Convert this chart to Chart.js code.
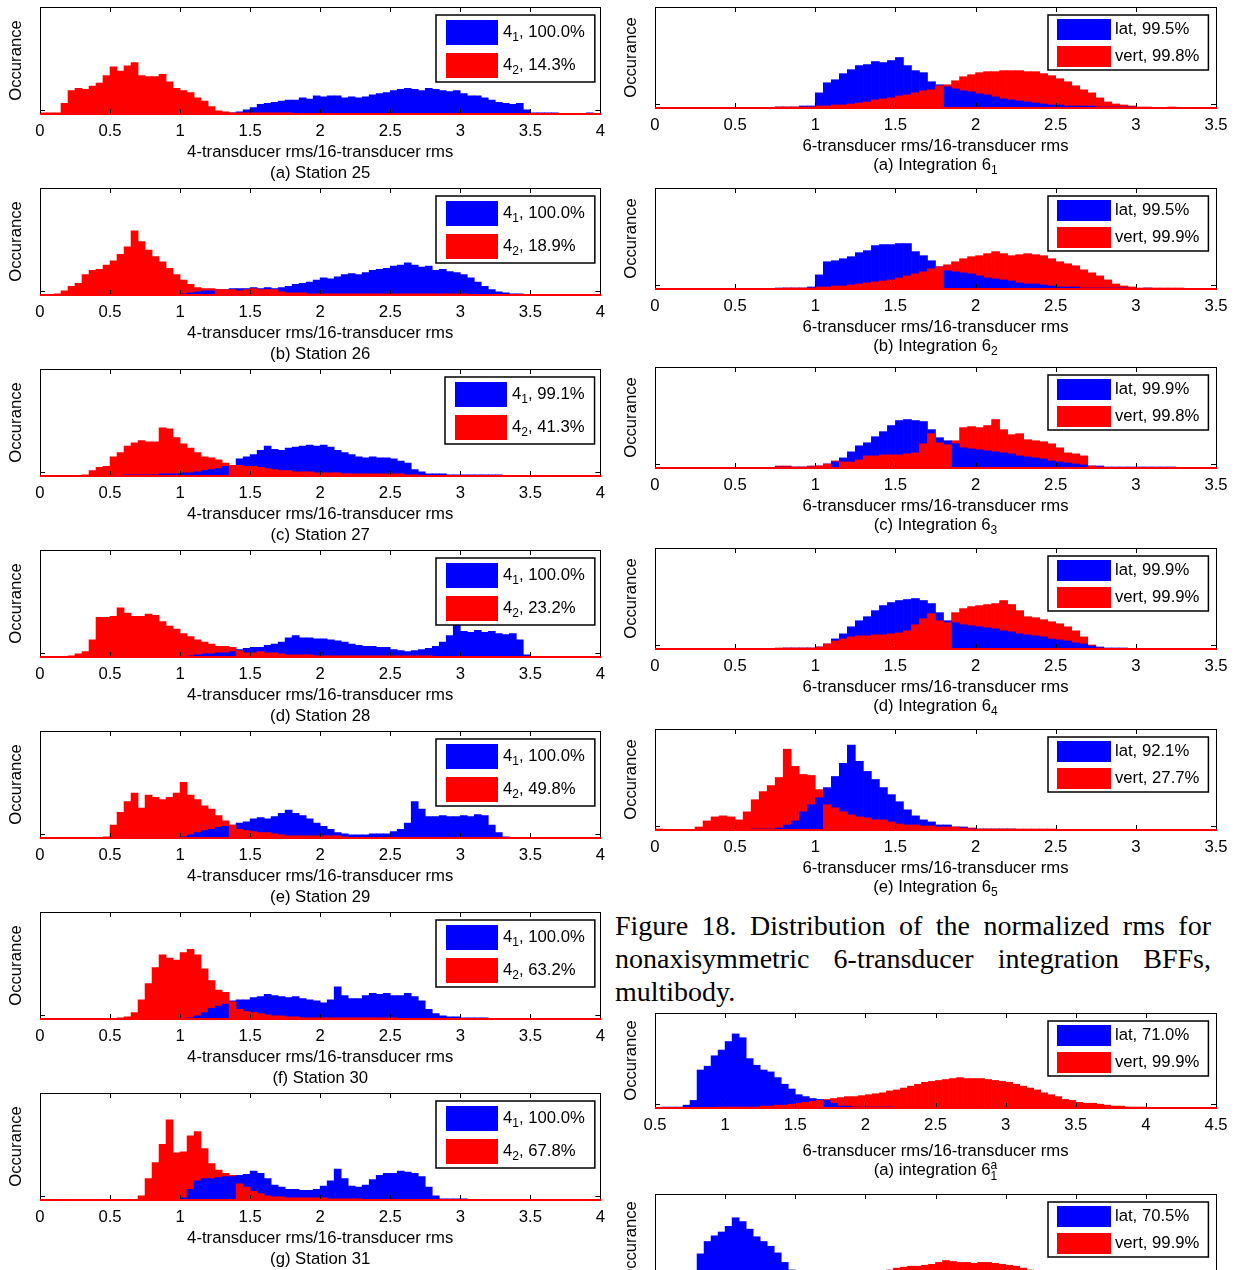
<!DOCTYPE html>
<html>
<head>
<meta charset="utf-8">
<script src="https://cdn.jsdelivr.net/npm/chart.js@4.4.0/dist/chart.umd.min.js"></script>
<style>
  body { margin: 0; background: #fff; width: 1239px; height: 1270px; overflow: hidden; position: relative; }
  canvas { position: absolute; }
  .cap { position: absolute; left: 615px; top: 909px; width: 596px; font: 28px "Liberation Serif", "Times New Roman", serif; line-height: 33px; color: #000; }
  .j { text-align: justify; text-align-last: justify; }
</style>
</head>
<body>
<div class="cap">
  <div class="j">Figure 18. Distribution of the normalized rms for</div>
  <div class="j">nonaxisymmetric 6-transducer integration BFFs,</div>
  <div>multibody.</div>
</div>
<script>
// ---- tick labels / axis text ----
const ticks0to4 = [0, 0.5, 1, 1.5, 2, 2.5, 3, 3.5, 4];
const ticks0to35 = [0, 0.5, 1, 1.5, 2, 2.5, 3, 3.5];
const ticks05to45 = [0.5, 1, 1.5, 2, 2.5, 3, 3.5, 4, 4.5];
const yTitle = 'Occurance';
const xTitle4 = '4-transducer rms/16-transducer rms';
const xTitle6 = '6-transducer rms/16-transducer rms';

const leftTitles = ['(a) Station 25', '(b) Station 26', '(c) Station 27', '(d) Station 28',
  '(e) Station 29', '(f) Station 30', '(g) Station 31'];
const leftLegend = [
  ['4_1, 100.0%', '4_2, 14.3%'], ['4_1, 100.0%', '4_2, 18.9%'], ['4_1, 99.1%', '4_2, 41.3%'],
  ['4_1, 100.0%', '4_2, 23.2%'], ['4_1, 100.0%', '4_2, 49.8%'], ['4_1, 100.0%', '4_2, 63.2%'],
  ['4_1, 100.0%', '4_2, 67.8%']];
const rightTitles = ['(a) Integration 6_1', '(b) Integration 6_2', '(c) Integration 6_3',
  '(d) Integration 6_4', '(e) Integration 6_5', '(a) integration 6^a_1', '(b) integration 6^a_2'];
const rightLegend = [
  ['lat, 99.5%', 'vert, 99.8%'], ['lat, 99.5%', 'vert, 99.9%'], ['lat, 99.9%', 'vert, 99.8%'],
  ['lat, 99.9%', 'vert, 99.9%'], ['lat, 92.1%', 'vert, 27.7%'], ['lat, 71.0%', 'vert, 99.9%'],
  ['lat, 70.5%', 'vert, 99.9%']];

// ---- histogram counts, bins of 0.05 (left: from 0, right: from 0, bottom: from 0.5) ----
const st25_41 = [0,0,0,0,0,0,0,0,0,0, 0,0,0,0,0,0,0,0,0,0, 0,0,0,0,0,0,0,1,2,4,
  6,9,10,11,12,13,13,15,14,17, 16,17,17,15,16,15,16,18,19,20, 22,23,24,23,22,24,23,22,21,22,
  19,17,17,15,13,11,10,9,10,4, 1,1,1,1,0,0,0,0,1,0];
const st25_42 = [1,1,1,10,22,24,23,26,29,36, 44,40,45,48,36,35,35,37,30,24,
  22,20,15,12,7,3,2,1,1,1, 1,1,1,1,1,1];

const st26_41 = [0,0,0,0,0,0,0,0,0,0, 0,0,0,0,0,0,0,0,0,0, 1,2,3,4,4,5,5,6,6,6,
  7,6,7,6,7,8,10,11,12,14, 16,15,17,19,20,19,21,23,24,25, 27,28,30,28,26,27,23,24,22,21,
  19,16,12,8,5,3,2,1,1,0];
const st26_42 = [0,0,1,4,8,11,19,23,24,28, 32,38,45,60,50,42,36,31,25,19,
  14,10,7,6,6,5,5,5,4,5, 6,5,5,5,3,2,2,2,1,1, 1,1,1,1,1,1,1,1,1,1, 1,1,1,1,1,1,1,1,1,1, 1];

const st27_41 = [0,0,0,0,0,0,0,0,0,0, 0,0,1,1,1,1,1,2,2,2, 3,3,4,5,6,7,9,10,16,18,
  20,24,28,25,24,26,27,28,29,28, 29,27,24,22,20,18,17,18,17,17, 16,14,12,6,4,2,2,2,1,1,
  1,1,1,1,1,1];
const st27_42 = [0,0,0,0,0,0,1,5,8,9, 18,22,28,31,33,32,32,45,44,36,
  30,26,22,18,17,15,12,10,10,9, 9,8,7,6,5,5,4,4,4,3, 3,3,3,2,2,2,2,2,2,2, 2,2,1,1];

const st28_41 = [0,0,0,0,0,0,0,0,0,0, 0,0,0,0,0,0,0,0,0,0, 0,1,2,3,3,4,4,5,7,8,
  9,9,11,12,14,18,20,18,18,17, 17,16,15,14,12,11,10,10,9,9, 7,6,5,6,7,8,10,14,20,30,
  24,23,25,23,24,22,21,22,16,2];
const st28_42 = [0,0,0,0,1,3,5,16,37,37, 38,46,41,38,38,40,39,33,29,26,
  22,19,16,14,12,10,10,9,6,4, 4,5,4,4,3,2,2,2,2,1, 1,1,1,1,1,1,1,1,1,1, 1,1,1,1,1,1];

const st29_41 = [0,0,0,0,0,0,0,0,0,0, 0,0,0,0,0,0,0,0,0,0, 1,3,5,7,8,10,11,12,14,15,
  18,19,18,20,23,26,23,21,18,14, 11,8,5,4,3,3,3,4,4,4, 6,8,14,34,27,20,20,21,20,20,
  21,20,22,21,12,5,1];
const st29_42 = [0,0,0,0,0,0,0,0,0,1, 12,24,34,42,28,40,38,36,38,42,
  52,40,36,30,27,21,16,12,8,7, 6,5,5,4,3,2,2,2,2,2, 2,2,2,1];

const st30_41 = [0,0,0,0,0,0,0,0,0,0, 0,0,0,0,0,0,0,0,0,0, 0,1,3,6,10,12,14,17,18,18,
  20,21,23,22,21,20,21,19,18,17, 15,18,30,22,19,19,22,24,23,24, 22,22,24,21,17,9,5,3,2,2,
  1,1,1,1];
const st30_42 = [0,0,0,0,0,0,0,0,0,0, 0,1,2,6,18,33,48,60,57,55,
  62,65,60,47,36,27,25,16,9,7, 6,5,4,3,3,2,2,1,1,1, 1,1,1,1,1,1,1,1,1,1, 1];

const st31_41 = [0,0,0,0,0,0,0,0,0,0, 0,0,0,0,0,0,0,0,0,0, 2,10,18,20,20,21,22,22,23,24,
  27,25,20,14,12,10,10,9,9,10, 13,18,29,20,13,12,14,19,23,25, 25,27,26,25,22,12,4,1,1,1,
  1];
const st31_42 = [0,0,0,0,0,0,0,0,0,0, 0,0,0,0,4,20,35,52,75,44,
  45,60,64,48,34,28,25,23,15,12, 8,6,4,3,3,2,2,2,2,2, 2,1,1,1,1,1];

const int61Lat = [0,0,0,0,0,0,0,0,0,0, 0,0,0,0,0,1,1,1,2,2, 15,25,28,34,38,42,43,46,45,47,
  50,42,37,35,26,23,21,19,17,16, 14,13,11,9,8,7,6,5,4,3, 3,2,2,2,2,1,1,1,1,1];
const int61Vert = [0,0,0,0,0,0,0,0,0,0, 0,0,0,0,0,1,1,1,1,1, 2,2,3,3,4,5,6,8,9,10,
  12,13,15,17,18,22,23,27,31,33, 35,36,36,37,37,37,36,36,34,32, 29,26,22,18,15,10,6,4,3,2,
  1,1,0,0,1];

const int62Lat = [0,0,0,0,0,0,0,0,0,0, 0,0,0,0,0,1,1,1,1,2, 14,27,28,30,32,36,38,43,44,44,
  45,45,37,33,28,22,18,17,16,15, 13,11,10,9,8,6,5,5,4,3, 2,2,2,1,1,1,1,1,1,0, 0,1];
const int62Vert = [0,0,0,0,0,0,0,0,0,0, 0,0,0,0,0,0,1,1,1,1, 2,2,3,3,4,5,6,7,8,9,
  11,13,15,17,20,22,24,27,30,32, 33,35,37,35,33,34,35,34,33,30, 27,25,23,19,16,13,9,5,3,2,
  1,1,1,1,1,1];

const int63Lat = [0,0,0,0,0,0,0,0,0,0, 0,0,0,0,0,1,1,1,1,1, 2,4,6,10,16,22,25,31,36,42,
  47,48,47,46,38,30,27,24,20,19, 18,17,16,15,14,12,11,10,9,7, 6,5,4,3,2,2,1,1,1,1,
  1,1,1,1,1];
const int63Vert = [0,0,0,0,0,0,0,0,0,0, 0,0,0,0,0,2,2,1,1,2, 2,4,7,6,6,8,12,12,13,13,
  13,14,15,24,34,25,23,27,40,41, 40,42,48,38,33,34,28,27,26,24, 20,15,14,12,2,1];

const int64Lat = [0,0,0,0,0,0,0,0,0,0, 0,0,0,0,0,0,1,1,1,1, 2,5,10,15,22,28,32,38,43,46,
  48,49,50,48,45,36,28,26,24,23, 22,21,20,18,17,15,14,13,12,10, 9,8,6,5,3,2,1,1,1];
const int64Vert = [0,0,0,0,0,0,0,0,0,0, 0,0,0,0,0,1,1,1,1,1, 2,5,8,10,12,13,13,14,14,15,
  16,18,24,30,35,28,26,36,40,42, 43,44,45,48,44,38,32,31,29,27, 25,22,18,12,4,1];

const int65Lat = [0,0,0,0,0,0,0,0,0,0, 0,0,1,1,1,2,5,9,18,25, 32,42,53,66,84,68,58,50,42,35,
  28,20,14,10,8,5,5,3,3,1, 1,1,1,1,1];
const int65Vert = [1,0,0,0,0,3,9,13,14,13, 10,18,30,38,44,52,80,63,55,54,
  40,25,22,18,15,13,12,10,10,8, 6,5,5,4,4,3,3,3,2,2, 1,1,1,1,1,1,1,1,1,1];

const int61aLat = [0,1,1,1,3,8,40,44,55,61, 70,78,74,52,45,40,38,32,25,20,
  14,12,10,9,8,5,2,2,1,1, 1,1,1,1];
const int61aVert = [0,0,0,0,0,0,0,0,0,1, 1,1,1,1,1,2,2,3,3,4, 5,6,7,8,9,10,11,12,12,13,
  14,15,16,18,19,21,23,25,27,28, 29,30,31,32,31,31,31,30,29,28, 27,25,23,21,19,16,14,12,9,8,
  6,5,5,4,3,2,2,1,1,1];
const int62aLat = [0,1,1,1,2,6,37,50,56,60, 66,75,71,63,55,50,45,38,28,20,
  14,11,9,7,6,4,3,2,2,1, 1,1];
const int62aVert = [0,0,0,0,0,0,0,0,0,1, 1,1,1,1,1,1,2,2,3,3, 4,5,6,7,8,9,10,11,12,13,
  14,15,17,20,22,23,24,24,25,26, 28,30,29,28,28,27,28,28,27,26, 25,24,22,20,18,16,14,12,10,8,
  6,5,4,3,2,2,1,1];

const leftBlue = [st25_41, st26_41, st27_41, st28_41, st29_41, st30_41, st31_41];
const leftRed = [st25_42, st26_42, st27_42, st28_42, st29_42, st30_42, st31_42];
const rightBlue = [int61Lat, int62Lat, int63Lat, int64Lat, int65Lat, int61aLat, int62aLat];
const rightRed = [int61Vert, int62Vert, int63Vert, int64Vert, int65Vert, int61aVert, int62aVert];

// ---- drawing ----
const BLUE = '#0000ff', RED = '#ff0000';
const FONT = '"Liberation Sans", Arial, sans-serif';
const FS = 16.7;
const BIN = 0.05;

function tokens(str) {
  const out = []; let buf = '', i = 0;
  const flush = () => { if (buf) { out.push({ k: 'n', t: buf }); buf = ''; } };
  while (i < str.length) {
    const c = str[i];
    if (c === '^' && str[i + 2] === '_') { flush(); out.push({ k: 'ss', t: str[i + 1], b: str[i + 3] }); i += 4; }
    else if (c === '_') { flush(); out.push({ k: 'sub', t: str[i + 1] }); i += 2; }
    else if (c === '^') { flush(); out.push({ k: 'sup', t: str[i + 1] }); i += 2; }
    else { buf += c; i++; }
  }
  flush();
  return out;
}
function tokWidth(ctx, t, size) {
  ctx.font = (t.k === 'n' ? size : size * 0.72) + 'px ' + FONT;
  if (t.k === 'ss') return Math.max(ctx.measureText(t.t).width, ctx.measureText(t.b).width);
  return ctx.measureText(t.t).width;
}
function richWidth(ctx, str, size) {
  return tokens(str).reduce((s, t) => s + tokWidth(ctx, t, size), 0);
}
function richText(ctx, str, x, y, size, align) {
  const toks = tokens(str);
  let cx = align === 'center' ? x - richWidth(ctx, str, size) / 2 : x;
  ctx.textBaseline = 'middle'; ctx.textAlign = 'left'; ctx.fillStyle = '#000';
  toks.forEach(t => {
    const w = tokWidth(ctx, t, size);
    if (t.k === 'n') ctx.fillText(t.t, cx, y);
    else if (t.k === 'sub') ctx.fillText(t.t, cx, y + size * 0.32);
    else if (t.k === 'sup') ctx.fillText(t.t, cx, y - size * 0.35);
    else { ctx.fillText(t.t, cx, y - size * 0.28); ctx.fillText(t.b, cx, y + size * 0.38); }
    cx += w;
  });
}

const legendGeom = {
  L: { inset: 6, top: 8, h: 67, sw: 52, sh: 25, rows: [5, 38], padL: 10, gap: 5, padR: 10 },
  R: { inset: 8, top: 8, h: 55, sw: 54, sh: 21, rows: [4, 31], padL: 9, gap: 4, padR: 9 }
};

const framePlugin = {
  id: 'frame',
  afterDatasetsDraw(chart) {
    const p = chart.options.plugins.frame;
    const { ctx, chartArea: a } = chart;
    const xs = chart.scales.x;
    ctx.save();
    // box + inward ticks
    ctx.strokeStyle = '#000'; ctx.lineWidth = 1;
    ctx.strokeRect(Math.round(a.left) + 0.5, Math.round(a.top) + 0.5, Math.round(a.right - a.left), Math.round(a.bottom - a.top));
    ctx.beginPath();
    p.ticks.forEach(v => {
      const x = Math.round(xs.getPixelForValue(v)) + 0.5;
      ctx.moveTo(x, a.top); ctx.lineTo(x, a.top + 5);
      ctx.moveTo(x, a.bottom); ctx.lineTo(x, a.bottom - 5);
    });
    ctx.moveTo(a.left, a.bottom - 3.5); ctx.lineTo(a.left + 5, a.bottom - 3.5);
    ctx.moveTo(a.right, a.bottom - 3.5); ctx.lineTo(a.right - 5, a.bottom - 3.5);
    ctx.stroke();
    // zero-count bins drawn as red base line
    ctx.fillStyle = RED;
    ctx.fillRect(a.left, Math.round(a.bottom) - 1, a.right - a.left + 1, 2);
    // legend
    const g = legendGeom[p.kind];
    const tw = Math.max(...p.legend.map(s => richWidth(ctx, s, FS)));
    const bw = g.padL + g.sw + g.gap + tw + g.padR;
    const bx = Math.round(a.right - g.inset - bw), by = Math.round(a.top + g.top);
    ctx.fillStyle = '#fff'; ctx.fillRect(bx, by, bw, g.h);
    ctx.lineWidth = 1.5; ctx.strokeStyle = '#000'; ctx.strokeRect(bx, by, bw, g.h);
    [BLUE, RED].forEach((col, k) => {
      ctx.fillStyle = col;
      ctx.fillRect(bx + g.padL, by + g.rows[k], g.sw, g.sh);
      richText(ctx, p.legend[k], bx + g.padL + g.sw + g.gap, by + g.rows[k] + g.sh / 2, FS, 'left');
    });
    // axis titles and caption
    ctx.save();
    ctx.translate(a.left - 24, (a.top + a.bottom) / 2);
    ctx.rotate(-Math.PI / 2);
    richText(ctx, yTitle, 0, 0, FS, 'center');
    ctx.restore();
    const cx = (a.left + a.right) / 2;
    richText(ctx, p.xTitle, cx, a.bottom + p.off[0], FS, 'center');
    richText(ctx, p.sub, cx, a.bottom + p.off[1], FS, 'center');
    ctx.restore();
  }
};

function layers(blue, red, x0, n) {
  const bBack = [], rBack = [], bFront = [], rFront = [];
  for (let k = 0; k < n; k++) {
    const b = blue[k] || 0, r = red[k] || 0;
    const x = +(x0 + BIN * (k + 0.5)).toFixed(4);
    if (b >= r) { if (b) bBack.push({ x, y: b }); if (r) rFront.push({ x, y: r }); }
    else { rBack.push({ x, y: r }); if (b) bFront.push({ x, y: b }); }
  }
  const ds = (data, color) => ({ data, backgroundColor: color, borderWidth: 0, grouped: false,
    barPercentage: 1, categoryPercentage: 1 });
  // first dataset is drawn on top
  return [ds(rFront, RED), ds(bFront, BLUE), ds(bBack, BLUE), ds(rBack, RED)];
}

function addPanel(cfg) {
  const CH = 186;
  const c = document.createElement('canvas');
  c.width = cfg.cw; c.height = CH;
  c.style.left = cfg.cx + 'px'; c.style.top = (cfg.top - 7) + 'px';
  document.body.appendChild(c);
  new Chart(c, {
    type: 'bar',
    data: { datasets: layers(cfg.blue, cfg.red, cfg.min, Math.round((cfg.max - cfg.min) / BIN)) },
    options: {
      responsive: false, animation: false, events: [],
      layout: { padding: { top: 7, right: cfg.rp, left: 0, bottom: 0 } },
      plugins: {
        legend: { display: false }, tooltip: { enabled: false },
        frame: { kind: cfg.kind, legend: cfg.legend, xTitle: cfg.xTitle, sub: cfg.sub, off: cfg.off, ticks: cfg.ticks }
      },
      scales: {
        x: {
          type: 'linear', min: cfg.min, max: cfg.max, offset: false,
          grid: { display: false, drawTicks: false }, border: { display: false },
          afterBuildTicks: s => { s.ticks = cfg.ticks.map(v => ({ value: v })); },
          ticks: { autoSkip: false, maxRotation: 0, padding: 7, color: '#000',
            font: { family: FONT, size: FS }, callback: v => String(+v) },
          afterFit: s => { s.height = CH - 7 - cfg.h; }
        },
        y: {
          min: 0, max: 100, ticks: { display: false }, grid: { display: false },
          border: { display: false }, afterFit: s => { s.width = 40; }
        }
      }
    },
    plugins: [framePlugin]
  });
}

const leftTops = [7, 188, 369, 550, 731, 912, 1093];
leftTops.forEach((top, k) => addPanel({
  kind: 'L', cx: 0, cw: 612, rp: 11, top, h: 107, min: 0, max: 4, ticks: ticks0to4,
  blue: leftBlue[k], red: leftRed[k], legend: leftLegend[k], xTitle: xTitle4, sub: leftTitles[k], off: [38, 59]
}));

const rightTops = [7, 188, 367, 548, 729];
rightTops.forEach((top, k) => addPanel({
  kind: 'R', cx: 615, cw: 624, rp: 23, top, h: 101, min: 0, max: 3.5, ticks: ticks0to35,
  blue: rightBlue[k], red: rightRed[k], legend: rightLegend[k], xTitle: xTitle6, sub: rightTitles[k], off: [38, 57]
}));

const lowerTops = [1013, 1194];
lowerTops.forEach((top, k) => addPanel({
  kind: 'R', cx: 615, cw: 624, rp: 23, top, h: 95, min: 0.5, max: 4.5, ticks: ticks05to45,
  blue: rightBlue[5 + k], red: rightRed[5 + k], legend: rightLegend[5 + k], xTitle: xTitle6,
  sub: rightTitles[5 + k], off: [43, 62]
}));
</script>
</body>
</html>
